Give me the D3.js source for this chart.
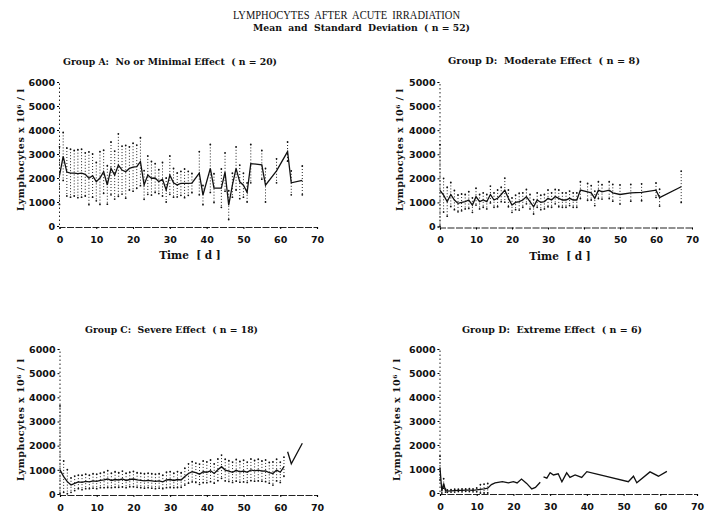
<!DOCTYPE html>
<html><head><meta charset="utf-8">
<script src="https://cdn.jsdelivr.net/npm/d3@7/dist/d3.min.js"></script>
<style>
html,body{margin:0;padding:0;background:#fff;}
svg{display:block;}
text{white-space:pre;}
</style></head>
<body>
<svg id="chart" width="710" height="519"></svg>
<script>
// ---------------- DATA ----------------
const mainTitle = "LYMPHOCYTES  AFTER  ACUTE  IRRADIATION";
const subTitle = "Mean  and  Standard  Deviation  ( n = 52)";
const yAxisTitle = "Lymphocytes x 10\u2076 / l";
const xAxisTitle = "Time  [ d ]";
const xTickValues = [0,10,20,30,40,50,60,70];
const yTickValues = [0,1000,2000,3000,4000,5000,6000];
const yTickLabels = ["0","1000","2000","3000","4000","5000","6000"];
const yTickLabelsB = ["0","1000","2000","3000","4000","5000","5000"];

const titleA = "Group A:  No or Minimal Effect  ( n = 20)";
const daysA = [0,1,2,3,4,5,6,7,8,9,10,11,12,13,14,15,16,17,18,19,20,21,22,23,24,25,26,27,28,29,30,31,32,33,34,35,36,38,39,41,42,44,45,46,47,48,49,50,51,52,55,56,59,62,63,66];
const meanA = [2100,2900,2250,2200,2200,2180,2200,2150,1990,2100,1850,2000,2260,1710,2400,2120,2540,2330,2260,2400,2450,2470,2680,1710,2120,1990,2000,1850,1950,1500,2120,1800,1710,1780,1780,1780,1790,2200,1290,2400,1580,1580,2250,870,1700,2400,1840,1700,1400,2600,2550,1700,2300,3100,1800,1900];
const sdA = [1200,1000,1000,1000,950,1000,1000,900,1100,900,800,1100,900,800,1100,1000,1300,1000,1100,900,1000,900,1000,600,800,700,600,500,700,500,800,600,500,500,600,500,400,900,400,1000,600,800,800,600,500,900,700,500,400,800,600,700,500,400,500,600];

const titleB = "Group D:  Moderate Effect  ( n = 8)";
const daysB = [0,1,2,3,4,5,6,7,8,9,10,11,12,13,14,15,16,17,18,19,20,21,22,23,24,25,26,27,28,29,30,31,32,33,34,35,36,37,38,39,41,42,43,44,45,47,48,50,53,56,60,61,67];
const meanB = [1500,1300,1030,1330,1100,960,1000,1030,1100,890,1240,1030,1100,1030,1330,1100,1170,1330,1510,1170,890,1000,1030,1100,1240,1030,820,1100,1000,1030,1170,1100,1240,1170,1100,1100,1170,1100,1100,1510,1440,1400,1170,1510,1440,1510,1400,1330,1400,1420,1510,1200,1650];
const sdB = [1900,700,600,500,400,350,350,300,350,300,350,300,300,300,350,300,350,300,500,350,300,300,350,300,300,300,300,300,300,300,350,300,300,350,300,300,300,300,300,350,350,300,300,350,300,350,350,400,350,350,300,350,650];

const titleC = "Group C:  Severe Effect  ( n = 18)";
const daysC = [0,1,2,3,4,5,6,7,8,9,10,11,12,13,14,15,16,17,18,19,20,21,22,23,24,25,26,27,28,29,30,31,32,33,34,35,36,37,38,39,40,41,42,43,44,45,46,47,48,49,50,51,52,53,54,55,56,57,58,59,60,61,61.5,62,63,66];
const meanC = [1000,720,510,370,440,500,480,520,500,540,520,560,580,620,560,600,580,620,560,600,620,580,560,540,560,540,520,540,500,580,600,560,600,580,720,850,920,880,820,920,900,960,850,1000,1130,990,950,900,980,920,950,900,1000,960,990,950,960,880,850,990,900,1130,null,1750,1250,2100];
const sdC = [2650,650,500,300,300,280,300,300,280,300,300,300,320,350,300,320,300,330,300,300,320,300,300,300,300,300,300,300,280,320,330,300,330,300,350,400,420,400,420,450,430,450,400,450,480,450,430,420,450,430,450,420,450,430,450,420,450,430,480,450,420,400,0,0,0,0];

const titleD = "Group D:  Extreme Effect  ( n = 6)";
const daysD = [0,0.5,1,1.5,2,3,4,5,6,7,8,9,10,11,12,13,14,15,17,18.6,20,21,22.2,23.6,25,26,27.3,27.8,28.2,29.1,30,30.9,32.2,33.2,34.5,35.4,36.8,38.6,40,51.3,52.7,53.6,57.2,59.5,61.8];
const meanD = [1040,80,400,100,80,90,100,110,110,120,120,110,130,150,170,200,350,420,470,420,470,420,580,400,170,230,450,null,670,620,850,750,800,470,840,650,750,650,890,470,700,430,880,700,900];
const sdD = [500,150,200,60,50,50,60,50,60,50,60,60,80,200,200,200,0,0,0,0,0,0,0,0,0,0,0,0,0,0,0,0,0,0,0,0,0,0,0,0,0,0,0,0,0];

// ---------------- LAYOUT ----------------
const panels = [
  {title:titleA, days:daysA, mean:meanA, sd:sdA, ylab:yTickLabels, px:[59.5,317], py:[226,82], tx:63, tw:214, ty:65, lx:24, ly:150, time:190},
  {title:titleB, days:daysB, mean:meanB, sd:sdB, ylab:yTickLabelsB, px:[440,692], py:[226.5,82], tx:448, tw:192, ty:64, lx:403, ly:150, time:560},
  {title:titleC, days:daysC, mean:meanC, sd:sdC, ylab:yTickLabels, px:[60,317], py:[494,349], tx:85, tw:173, ty:333, lx:24, ly:420, time:null},
  {title:titleD, days:daysD, mean:meanD, sd:sdD, ylab:yTickLabels, px:[440,697], py:[493,349], tx:462, tw:180, ty:333, lx:400, ly:420, time:null}
];

const svg = d3.select("#chart");
const serif = "'DejaVu Serif', 'Liberation Serif', serif";
const sans = "'DejaVu Sans', sans-serif";

svg.append("text").attr("x",233).attr("y",19).attr("textLength",227).attr("lengthAdjust","spacingAndGlyphs")
  .attr("font-family","'Liberation Serif', serif").attr("font-size",13).attr("fill","#111").text(mainTitle);
svg.append("text").attr("x",253).attr("y",31).attr("textLength",217).attr("lengthAdjust","spacingAndGlyphs")
  .attr("font-family",serif).attr("font-weight","bold").attr("font-size",9).attr("fill","#111").text(subTitle);

panels.forEach(p => {
  const x = d3.scaleLinear().domain([0,70]).range(p.px);
  const y = d3.scaleLinear().domain([0,6000]).range(p.py);
  const g = svg.append("g");

  // group title
  g.append("text").attr("x",p.tx).attr("y",p.ty).attr("textLength",p.tw).attr("lengthAdjust","spacingAndGlyphs")
    .attr("font-family",serif).attr("font-weight","bold").attr("font-size",10).attr("fill","#111").text(p.title);

  // y axis
  const ya = d3.axisLeft(y).tickValues(yTickValues).tickSize(2).tickPadding(2)
    .tickFormat((d,i) => p.ylab[i]);
  const yg = g.append("g").attr("transform",`translate(${p.px[0]-0.5},0)`).call(ya);
  yg.select(".domain").attr("stroke","#222").attr("stroke-width",1).attr("stroke-dasharray","1.5,2.5");
  yg.selectAll("text").attr("font-family",sans).attr("font-weight","bold").attr("font-size",9.5).attr("fill","#111").attr("dy","0.35em");

  // x axis
  const xa = d3.axisBottom(x).tickValues(xTickValues).tickSize(2).tickPadding(7);
  const xg = g.append("g").attr("transform",`translate(0,${p.py[0]+1})`).call(xa);
  xg.select(".domain").attr("stroke","#222").attr("stroke-width",1.2).attr("stroke-dasharray","7,1.5");
  xg.selectAll("text").attr("font-family",sans).attr("font-weight","bold").attr("font-size",9.5).attr("fill","#111");

  // y axis title
  g.append("text").attr("transform",`translate(${p.lx},${p.ly}) rotate(-90)`).attr("text-anchor","middle")
    .attr("textLength",122).attr("lengthAdjust","spacing")
    .attr("font-family",serif).attr("font-weight","bold").attr("font-size",9.5).attr("fill","#111").text(yAxisTitle);

  if (p.time !== null) {
    g.append("text").attr("x",p.time).attr("y",p.py[0]+33).attr("text-anchor","middle")
      .attr("font-family",serif).attr("font-weight","bold").attr("font-size",10.5).attr("fill","#111").text(xAxisTitle);
  }

  const rows = p.days.map((d,i) => ({d, m:p.mean[i], s:p.sd[i]}));
  const bars = rows.filter(r => r.m !== null && r.s > 0);

  // SD error bars (dotted)
  g.selectAll(".eb").data(bars).enter().append("line")
    .attr("x1", r => x(r.d)).attr("x2", r => x(r.d))
    .attr("y1", r => y(Math.min(6000, r.m + r.s))).attr("y2", r => y(Math.max(0, r.m - r.s)))
    .attr("stroke","#222").attr("stroke-width",1).attr("stroke-dasharray","1,2");
  g.selectAll(".ebt").data(bars).enter().append("circle")
    .attr("cx", r => x(r.d)).attr("cy", r => y(Math.min(6000, r.m + r.s))).attr("r",0.9).attr("fill","#111");
  g.selectAll(".ebb").data(bars).enter().append("circle")
    .attr("cx", r => x(r.d)).attr("cy", r => y(Math.max(0, r.m - r.s))).attr("r",0.9).attr("fill","#111");

  // mean line
  const line = d3.line().defined(r => r.m !== null).x(r => x(r.d)).y(r => y(r.m));
  g.append("path").datum(rows).attr("d",line).attr("fill","none").attr("stroke","#111").attr("stroke-width",1.3);
});
</script>
</body></html>
